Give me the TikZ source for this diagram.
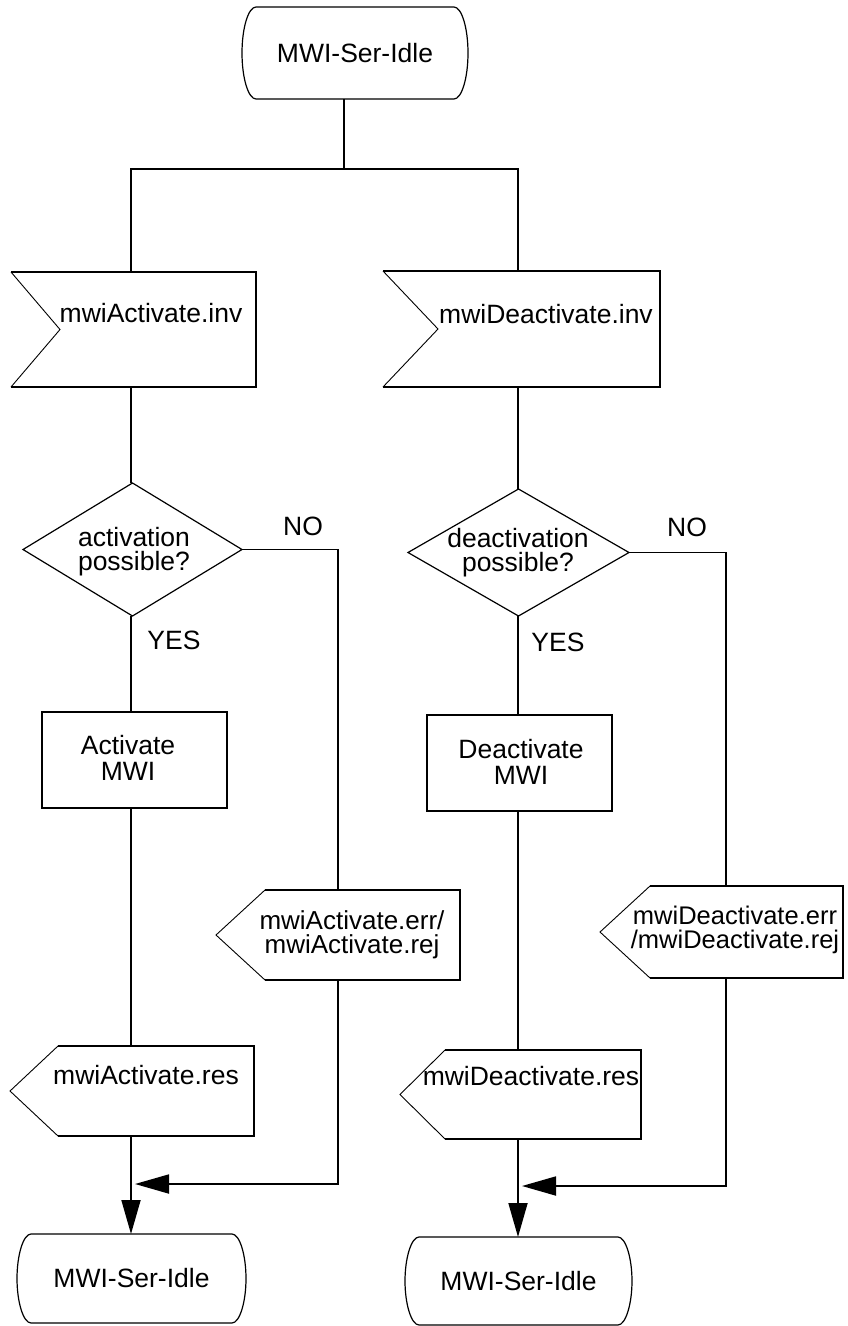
\documentclass[tikz,border=0pt]{standalone}
\usepackage{fontspec}
\setmainfont{Liberation Sans}
\usetikzlibrary{arrows.meta,shapes.geometric}

\newcommand\mainsize{\fontsize{26.5pt}{26pt}\selectfont}
\newcommand\tightsize{\fontsize{26.5pt}{24pt}\selectfont}
\newcommand\errsize{\fontsize{26pt}{23.5pt}\selectfont}
\newcommand\errsmall{\fontsize{25.5pt}{23.5pt}\selectfont}

\tikzset{
  conn/.style={line width=1.8pt},
  flow/.style={conn, -{Triangle[length=34pt,width=19pt]}},
  thickedge/.style={line width=1.8pt, line join=miter},
  thinedge/.style={line width=0.9pt},
  termline/.style={line width=1.2pt},
  frame/.style={rectangle, inner sep=0pt, outer sep=0pt},
  task/.style={frame, draw, line width=1.8pt},
  decision/.style={diamond, draw, line width=1.2pt, inner sep=0pt, outer sep=0pt},
  lbl/.style={inner sep=0pt},
}

% state symbol: flat top and bottom, bowed sides
\newcommand\termoutline[1]{%
  \draw[termline]
    ([xshift=14pt]#1.north west) -- ([xshift=-14pt]#1.north east)
    .. controls ([xshift=-6.3pt]#1.north east) and ([yshift=-21pt]#1.north east) .. (#1.east)
    .. controls ([yshift=21pt]#1.south east) and ([xshift=-6.3pt]#1.south east) .. ([xshift=-14pt]#1.south east)
    -- ([xshift=14pt]#1.south west)
    .. controls ([xshift=6.3pt]#1.south west) and ([yshift=21pt]#1.south west) .. (#1.west)
    .. controls ([yshift=-21pt]#1.north west) and ([xshift=6.3pt]#1.north west) .. cycle;}

% signal input: notch cut into the left side
\newcommand\inoutline[2]{%
  \draw[thickedge] (#1.north west) -- (#1.north east) -- (#1.south east) -- (#1.south west);
  \draw[thinedge] (#1.south west) -- ([xshift=#2]#1.west) -- (#1.north west);}

% signal output: point on the left side
\newcommand\outoutline[2]{%
  \draw[thickedge] ([xshift=#2]#1.north west) -- (#1.north east) -- (#1.south east) -- ([xshift=#2]#1.south west);
  \draw[thinedge] ([xshift=#2]#1.south west) -- (#1.west) -- ([xshift=#2]#1.north west);}

\begin{document}
\begin{tikzpicture}[x=1pt, y=-1pt, every node/.style={font=\mainsize}]
\useasboundingbox[fill=white] (0,0) rectangle (847,1326);

% routing guides
\coordinate (colA) at (131,0);
\coordinate (colB) at (518,0);
\coordinate (fork) at (344,169);
\coordinate (noA) at (338,0);
\coordinate (noB) at (726,0);
\coordinate (joinA) at (131,1184);
\coordinate (joinB) at (518,1186);

% start state
\node[frame, minimum width=226pt, minimum height=92pt] (idle0) at (355,53) {MWI-Ser-Idle};
\termoutline{idle0}

% received invocations
\node[frame, minimum width=245pt, minimum height=115pt] (inA) at (133.5,329.5) {};
\inoutline{inA}{49pt}
\node[lbl] (inA-t) at (151,313.5) {mwiActivate.inv};
\node[frame, minimum width=277pt, minimum height=116pt] (inB) at (521.5,329) {};
\inoutline{inB}{55pt}
\node[lbl] (inB-t) at (546,314) {mwiDeactivate.inv};

% decisions
\node[decision, minimum width=219pt, minimum height=133pt] (decA) at (132.5,549.5) {};
\node[lbl, align=center, font=\tightsize] (decA-t) at (134,552) {activation\\possible?};
\node[decision, minimum width=221pt, minimum height=127pt] (decB) at (518.5,552.5) {};
\node[lbl, align=center, font=\tightsize] (decB-t) at (518,552.5) {deactivation\\possible?};

\node[lbl, anchor=base] (noA-l) at (303,535) {NO};
\node[lbl, anchor=base] (yesA-l) at (174,649) {YES};
\node[lbl, anchor=base] (noB-l) at (687,536) {NO};
\node[lbl, anchor=base] (yesB-l) at (558,651) {YES};

% tasks
\node[task, minimum width=185pt, minimum height=96pt] (actA) at (134.5,760) {};
\node[lbl, align=center] (actA-t) at (128,757.5) {Activate\\MWI};
\node[task, minimum width=185pt, minimum height=96pt] (actB) at (519.5,763) {};
\node[lbl, align=center] (actB-t) at (521,761.5) {Deactivate\\MWI};

% negative responses
\node[frame, minimum width=244pt, minimum height=90pt] (errA) at (338,935) {};
\outoutline{errA}{49pt}
\node[lbl, align=center, font=\errsize] (errA-t) at (352,935) {mwiActivate.err/\\mwiActivate.rej};
\node[frame, minimum width=243pt, minimum height=92pt] (errB) at (721.5,932) {};
\outoutline{errB}{50pt}
\node[lbl, align=center, font=\errsmall] (errB-t) at (735,930) {mwiDeactivate.err\\/mwiDeactivate.rej};

% positive responses
\node[frame, minimum width=244pt, minimum height=90pt] (resA) at (132,1091) {};
\outoutline{resA}{48pt}
\node[lbl] (resA-t) at (146,1075.5) {mwiActivate.res};
\node[frame, minimum width=241pt, minimum height=89pt] (resB) at (520.5,1094.5) {};
\outoutline{resB}{45pt}
\node[lbl] (resB-t) at (531,1076.5) {mwiDeactivate.res};

% end states
\node[frame, minimum width=229pt, minimum height=89pt] (idle1) at (131.5,1278.5) {MWI-Ser-Idle};
\termoutline{idle1}
\node[frame, minimum width=227pt, minimum height=88pt] (idle2) at (518.5,1281) {MWI-Ser-Idle};
\termoutline{idle2}

% fork below the start state
\draw[conn] (idle0.south -| fork) -- (fork);
\draw[conn] (inA.north -| colA) -- (fork -| colA) -- (fork -| colB) -- (inB.north -| colB);

% activation branch
\draw[conn] (inA.south -| colA) -- (decA.north -| colA);
\draw[conn] (decA.south -| colA) -- (actA.north -| colA);
\draw[conn] (actA.south -| colA) -- (resA.north -| colA);
\draw[flow] (resA.south -| colA) -- (idle1.north -| colA);
\draw[conn] (decA.east) -| (errA.north -| noA);
\draw[flow, shorten >=4pt] (errA.south -| noA) |- (joinA);

% deactivation branch
\draw[conn] (inB.south -| colB) -- (decB.north -| colB);
\draw[conn] (decB.south -| colB) -- (actB.north -| colB);
\draw[conn] (actB.south -| colB) -- (resB.north -| colB);
\draw[flow] (resB.south -| colB) -- (idle2.north -| colB);
\draw[conn] (decB.east) -| (errB.north -| noB);
\draw[flow, shorten >=4pt] (errB.south -| noB) |- (joinB);
\end{tikzpicture}
\end{document}
